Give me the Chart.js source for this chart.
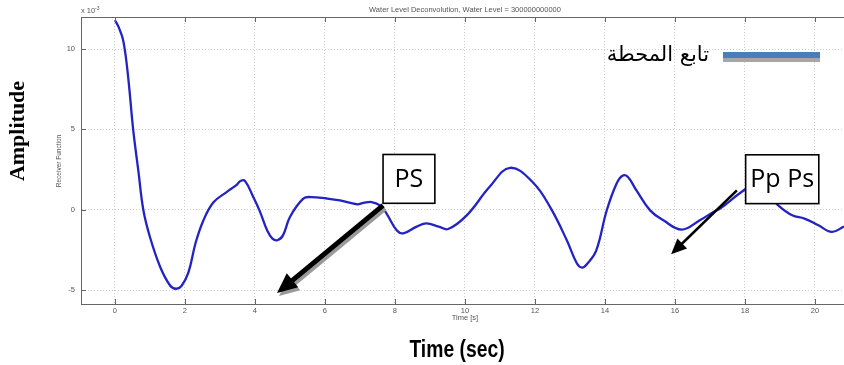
<!DOCTYPE html>
<html>
<head>
<meta charset="utf-8">
<script src="https://cdn.jsdelivr.net/npm/chart.js@4"></script>
<style>
  html, body { margin: 0; padding: 0; background: #fff; }
  #wrap { width: 844px; height: 365px; position: relative; }
</style>
</head>
<body>
<div id="wrap"><canvas id="chart-rf"></canvas></div>
<script>
// receiver function trace (time in s, amplitude x 10^-3)
const TIME = [0, 0.1, 0.24, 0.38, 0.52, 0.67, 0.81, 1.0, 1.29, 1.57, 1.74, 1.9, 2.1, 2.3, 2.52, 2.81,
  3.19, 3.45, 3.6, 3.72, 3.95, 4.14, 4.35, 4.5, 4.64, 4.8, 5.0, 5.38, 5.6, 6.05, 6.43, 6.91, 7.1, 7.33, 7.57,
  7.76, 8.05, 8.24, 8.62, 8.9, 9.25, 9.52, 10.05, 10.7, 11.29, 11.95, 12.45, 12.91, 13.2, 13.35, 13.5, 13.75,
  14.05, 14.33, 14.5, 14.65, 14.9, 15.29, 15.67, 16.19, 16.71, 17.1, 17.29, 17.9, 18.3, 18.6, 18.95,
  19.35, 19.7, 20.1, 20.48, 20.83];
const AMP = [11.8, 11.4, 10.5, 8.2, 5.0, 2.4, 0.0, -1.7, -3.55, -4.7, -4.92, -4.75, -3.9, -2.1, -0.7, 0.45,
  1.1, 1.5, 1.8, 1.78, 0.8, -0.1, -1.3, -1.8, -1.9, -1.6, -0.45, 0.69, 0.79, 0.7, 0.58, 0.34, 0.42, 0.48, 0.27,
  -0.24, -1.28, -1.47, -1.05, -0.85, -1.05, -1.2, -0.35, 1.41, 2.61, 1.68, 0.1, -1.9, -3.35, -3.6, -3.35, -2.55,
  -0.05, 1.62, 2.12, 2.05, 1.2, -0.04, -0.66, -1.24, -0.66, -0.14, 0.07, 1.1, 1.6, 1.1, 0.27,
  -0.35, -0.55, -0.97, -1.38, -1.05];
const X_TICKS = [0, 2, 4, 6, 8, 10, 12, 14, 16, 18, 20];
const Y_TICKS = [-5, 0, 5, 10];

// annotation anchors in data units
const PS_BOX = { x1: 7.66, y1: 3.44, x2: 9.14, y2: 0.4, label: 'PS' };
const PS_ARROW = { from: [7.66, 0.27], to: [4.63, -5.19] };
const PP_BOX = { x1: 18.02, y1: 3.42, x2: 20.11, y2: 0.38, label: 'Pp Ps' };
const PP_ARROW = { from: [17.77, 1.2], to: [15.89, -2.77] };

function drawArrow(ctx, x1, y1, x2, y2, width, head, color) {
  const ang = Math.atan2(y2 - y1, x2 - x1);
  const bx = x2 - Math.cos(ang) * head * 0.8;
  const by = y2 - Math.sin(ang) * head * 0.8;
  ctx.strokeStyle = color;
  ctx.fillStyle = color;
  ctx.lineWidth = width;
  ctx.beginPath(); ctx.moveTo(x1, y1); ctx.lineTo(bx, by); ctx.stroke();
  ctx.beginPath();
  ctx.moveTo(x2, y2);
  ctx.lineTo(x2 - Math.cos(ang - 0.42) * head, y2 - Math.sin(ang - 0.42) * head);
  ctx.lineTo(x2 - Math.cos(ang + 0.42) * head, y2 - Math.sin(ang + 0.42) * head);
  ctx.closePath(); ctx.fill();
}

function drawBox(ctx, x, y, b) {
  const l = x.getPixelForValue(b.x1), r = x.getPixelForValue(b.x2);
  const t = y.getPixelForValue(b.y1), bt = y.getPixelForValue(b.y2);
  ctx.fillStyle = '#fff';
  ctx.fillRect(l, t, r - l, bt - t);
  ctx.strokeStyle = '#000'; ctx.lineWidth = 1.6;
  ctx.strokeRect(l, t, r - l, bt - t);
  ctx.fillStyle = '#000';
  ctx.font = '25px "Open Sans"';
  ctx.textAlign = 'center'; ctx.textBaseline = 'middle';
  ctx.fillText(b.label, (l + r) / 2, (t + bt) / 2 + 1);
}

const overlay = {
  id: 'overlay',
  afterDraw(chart) {
    const { ctx, chartArea: a, scales: { x, y } } = chart;
    ctx.save();

    // box top line and inward ticks (matlab style)
    ctx.strokeStyle = '#666'; ctx.lineWidth = 1;
    ctx.beginPath();
    ctx.moveTo(a.left, a.top + 0.5); ctx.lineTo(a.right, a.top + 0.5);
    X_TICKS.forEach(v => {
      const px = Math.round(x.getPixelForValue(v)) + 0.5;
      ctx.moveTo(px, a.top); ctx.lineTo(px, a.top + 5);
      ctx.moveTo(px, a.bottom); ctx.lineTo(px, a.bottom - 5);
    });
    Y_TICKS.forEach(v => {
      const py = Math.round(y.getPixelForValue(v)) + 0.5;
      ctx.moveTo(a.left, py); ctx.lineTo(a.left + 5, py);
    });
    ctx.stroke();

    // small matlab texts
    ctx.fillStyle = '#555';
    ctx.font = '7.5px "Liberation Sans"';
    ctx.textAlign = 'center'; ctx.textBaseline = 'middle';
    ctx.fillText('Water Level Deconvolution, Water Level = 300000000000', 465, 10);
    ctx.fillText('Time [s]', 465, 318);
    ctx.textAlign = 'left';
    ctx.fillText('x 10', 81, 11);
    ctx.font = '5px "Liberation Sans"';
    ctx.fillText('-3', 95, 9);

    ctx.save();
    ctx.translate(59, 161); ctx.rotate(-Math.PI / 2);
    ctx.font = '6.5px "Liberation Sans"'; ctx.textAlign = 'center';
    ctx.fillText('Receiver Function', 0, 0);
    ctx.restore();

    // big figure labels
    ctx.fillStyle = '#000';
    ctx.save();
    ctx.translate(24, 131); ctx.rotate(-Math.PI / 2);
    ctx.font = 'bold 22px "Liberation Serif"'; ctx.textAlign = 'center';
    ctx.textBaseline = 'alphabetic';
    ctx.fillText('Amplitude', 0, 0);
    ctx.restore();
    ctx.font = 'bold 21px "Liberation Sans"';
    ctx.textAlign = 'center';
    ctx.save();
    ctx.translate(457, 351); ctx.scale(0.92, 1.1);
    ctx.fillText('Time (sec)', 0, 0);
    ctx.restore();

    // legend
    ctx.fillStyle = '#a6a6a6';
    ctx.fillRect(723, 57, 97, 5);
    ctx.fillStyle = '#4a7ebb';
    ctx.fillRect(723, 52, 97, 6);
    ctx.fillStyle = '#000';
    ctx.font = '21px "DejaVu Sans"';
    ctx.textAlign = 'right';
    ctx.fillText('تابع المحطة', 709, 56);

    // PS annotation
    const p1 = [x.getPixelForValue(PS_ARROW.from[0]), y.getPixelForValue(PS_ARROW.from[1])];
    const p2 = [x.getPixelForValue(PS_ARROW.to[0]), y.getPixelForValue(PS_ARROW.to[1])];
    drawArrow(ctx, p1[0] + 2, p1[1] + 3, p2[0] + 2, p2[1] + 3, 5, 22, '#9a9a9a');
    drawArrow(ctx, p1[0], p1[1], p2[0], p2[1], 5, 22, '#000');
    drawBox(ctx, x, y, PS_BOX);

    // Pp Ps annotation
    const q1 = [x.getPixelForValue(PP_ARROW.from[0]), y.getPixelForValue(PP_ARROW.from[1])];
    const q2 = [x.getPixelForValue(PP_ARROW.to[0]), y.getPixelForValue(PP_ARROW.to[1])];
    drawBox(ctx, x, y, PP_BOX);
    drawArrow(ctx, q1[0], q1[1], q2[0], q2[1], 2.5, 17, '#000');

    ctx.restore();
  }
};

const tickFont = { family: 'Liberation Sans', size: 7.5 };

new Chart(document.getElementById('chart-rf'), {
  type: 'line',
  data: {
    datasets: [{
      data: TIME.map((t, i) => ({ x: t, y: AMP[i] })),
      borderColor: '#2323c4',
      borderWidth: 2.3,
      pointRadius: 0,
      fill: false,
      tension: 0.4,
    }],
  },
  options: {
    responsive: true,
    maintainAspectRatio: false,
    animation: false,
    layout: { padding: { top: 17, left: 0, right: 0, bottom: 0 } },
    plugins: { legend: { display: false }, tooltip: { enabled: false } },
    scales: {
      x: {
        type: 'linear', min: -0.97, max: 20.83,
        afterBuildTicks: s => { s.ticks = X_TICKS.map(v => ({ value: v })); },
        afterFit: s => { s.height = 61; },
        ticks: { font: tickFont, color: '#555', padding: 2, maxRotation: 0 },
        grid: { color: '#cfcfcf', drawTicks: false, lineWidth: 1 },
        border: { color: '#666', dash: [1, 2] },
      },
      y: {
        min: -5.87, max: 12,
        afterBuildTicks: s => { s.ticks = Y_TICKS.map(v => ({ value: v })); },
        afterFit: s => { s.width = 81; },
        ticks: { font: tickFont, color: '#555', padding: 6 },
        grid: { color: '#cfcfcf', drawTicks: false, lineWidth: 1 },
        border: { color: '#666', dash: [1, 2] },
      },
    },
  },
  plugins: [overlay],
});
</script>
</body>
</html>
